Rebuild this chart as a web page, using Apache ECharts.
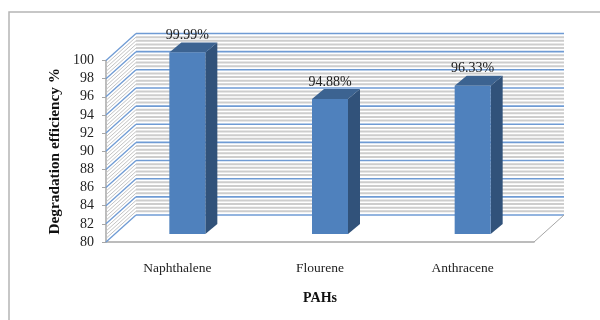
<!DOCTYPE html>
<html>
<head>
<meta charset="utf-8">
<script src="https://cdn.jsdelivr.net/npm/echarts@6/dist/echarts.min.js"></script>
<style>
    html, body { margin: 0; padding: 0; background: #fff; }
    #chart { width: 600px; height: 320px; }
</style>
</head>
<body>
<div id="chart"></div>
<script>
    var categories = ['Naphthalene', 'Flourene', 'Anthracene'];
    var efficiency = [99.99, 94.88, 96.33];
    var efficiencyLabels = ['99.99%', '94.88%', '96.33%'];
    var gridTicks = [80, 82, 84, 86, 88, 90, 92, 94, 96, 98, 100];

    // fake 3d: how far the back wall and the bars sit behind the axis plane
    var wallDx = 30, wallDy = -27;
    var barDx = 10, barDy = -8, barHalf = 18, sideDx = 12, sideDy = -10;
    var minorCount = 4;
    var blue = '#6f9bd4', hatch = '#cdcdcd', hatchSide = '#c4c4c4', axisGrey = '#a6a6a6';
    var font = 'Liberation Serif';

    function seg(x1, y1, x2, y2, color, width) {
        return {
            type: 'line',
            shape: { x1: x1, y1: y1, x2: x2, y2: y2 },
            style: { stroke: color, lineWidth: width }
        };
    }

    function renderWall(params, api) {
        var rect = params.coordSys;
        var left = rect.x, right = rect.x + rect.width;
        var value = api.value(1);
        var y = api.coord([0, value])[1];
        var children = [];

        // hatching below each major line, the lowest tick has none
        if (value > gridTicks[0]) {
            var step = gridTicks[1] - gridTicks[0];
            for (var k = 1; k <= minorCount; k++) {
                var my = api.coord([0, value - step * k / (minorCount + 1)])[1];
                children.push(seg(left + wallDx, my + wallDy, right + wallDx, my + wallDy, hatch, 2));
                children.push(seg(left, my, left + wallDx, my + wallDy, hatchSide, 1));
            }
        }
        children.push(seg(left + wallDx, y + wallDy, right + wallDx, y + wallDy, blue, 1.6));
        children.push(seg(left, y, left + wallDx, y + wallDy, blue, 1.3));

        // floor edge on the right
        if (value === gridTicks[0]) {
            children.push(seg(right, y, right + wallDx, y + wallDy, axisGrey, 1));
        }
        return { type: 'group', children: children };
    }

    function renderBar(params, api) {
        var idx = api.value(0);
        var top = api.coord([idx, api.value(1)]);
        var base = api.coord([idx, gridTicks[0]]);
        var x0 = top[0] + barDx - barHalf, x1 = top[0] + barDx + barHalf;
        var y0 = top[1] + barDy, y1 = base[1] + barDy;
        return {
            type: 'group',
            children: [
                {
                    type: 'polygon',
                    shape: { points: [[x1, y0], [x1 + sideDx, y0 + sideDy], [x1 + sideDx, y1 + sideDy], [x1, y1]] },
                    style: { fill: '#31527a' }
                },
                {
                    type: 'polygon',
                    shape: { points: [[x0, y0], [x0 + sideDx, y0 + sideDy], [x1 + sideDx, y0 + sideDy], [x1, y0]] },
                    style: { fill: '#3c6391' }
                },
                {
                    type: 'rect',
                    shape: { x: x0, y: y0, width: x1 - x0, height: y1 - y0 },
                    style: { fill: '#4f81bd' }
                },
                {
                    type: 'text',
                    style: {
                        text: efficiencyLabels[params.dataIndex],
                        x: top[0] + barDx,
                        y: y0 - 17,
                        align: 'center',
                        verticalAlign: 'middle',
                        fontFamily: font,
                        fontSize: 14,
                        fill: '#222'
                    }
                }
            ]
        };
    }

    var chart = echarts.init(document.getElementById('chart'), null, { renderer: 'canvas' });
    chart.setOption({
        animation: false,
        backgroundColor: '#fff',
        graphic: [{
            type: 'polyline',
            silent: true,
            shape: { points: [[9, 320], [9, 12], [600, 12]] },
            style: { fill: 'none', stroke: '#b5b5b5', lineWidth: 1.5 }
        }],
        grid: { left: 106, right: 66, top: 60.5, bottom: 78 },
        xAxis: {
            type: 'category',
            data: categories,
            name: 'PAHs',
            nameLocation: 'middle',
            nameGap: 49,
            nameTextStyle: { fontFamily: font, fontWeight: 'bold', fontSize: 14, color: '#111' },
            axisTick: { show: false },
            axisLine: { lineStyle: { color: axisGrey, width: 1.5 } },
            axisLabel: { fontFamily: font, fontSize: 13.5, color: '#222', margin: 19 },
            splitLine: { show: false }
        },
        yAxis: {
            type: 'value',
            min: 80,
            max: 100,
            interval: 2,
            name: 'Degradation efficiency %',
            nameLocation: 'middle',
            nameGap: 36,
            nameTextStyle: { fontFamily: font, fontWeight: 'bold', fontSize: 15.3, color: '#111' },
            axisLine: { show: true, lineStyle: { color: axisGrey, width: 1.5 } },
            axisTick: { show: true, length: 4, lineStyle: { color: axisGrey } },
            axisLabel: { fontFamily: font, fontSize: 14, color: '#222', margin: 12 },
            splitLine: { show: false }
        },
        series: [
            {
                type: 'custom',
                name: 'walls',
                silent: true,
                z: 1,
                renderItem: renderWall,
                data: gridTicks.map(function (t) { return [0, t]; })
            },
            {
                type: 'custom',
                name: 'Degradation efficiency',
                silent: true,
                z: 2,
                renderItem: renderBar,
                data: efficiency.map(function (v, i) { return [i, v]; })
            }
        ]
    });
</script>
</body>
</html>
